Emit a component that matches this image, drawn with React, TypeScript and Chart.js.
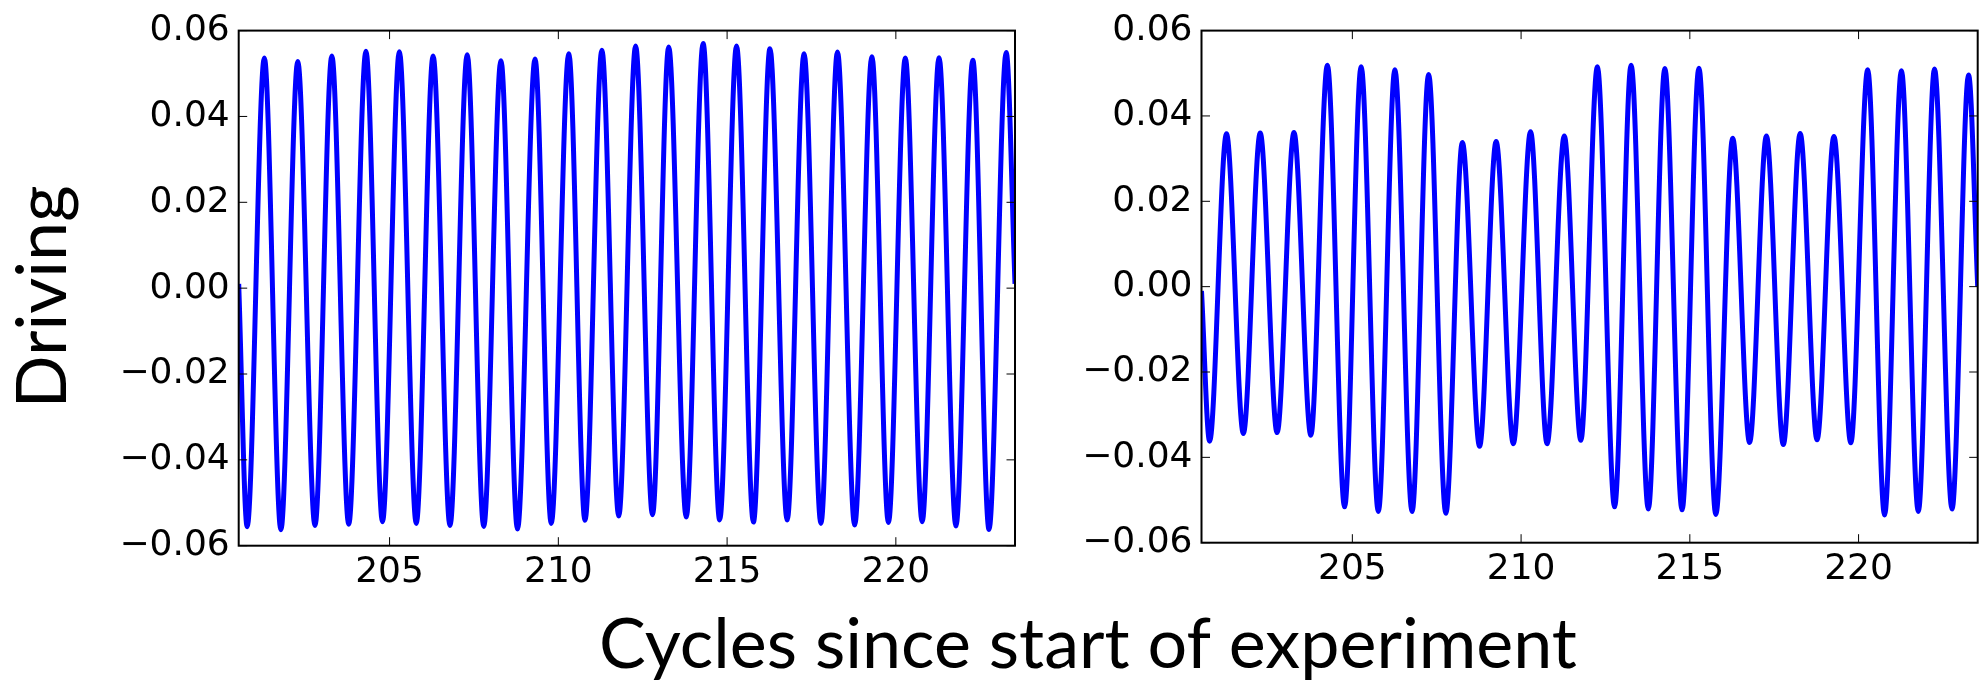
import React, { useEffect, useRef } from "react";
import { Chart, registerables } from "chart.js";

Chart.register(...registerables);

// ---- data ----
const xMin = 200.53;
const xMax = 223.53;
const xTicks = [205, 210, 215, 220];
const yTicks = [-0.06, -0.04, -0.02, 0, 0.02, 0.04, 0.06];

const xTitle = "Cycles since start of experiment";
const yTitle = "Driving";

// left panel
const leftStartValue = 0.001;
const leftEndValue = 0.001;
const leftTroughCycles = [200.78, 201.78, 202.79, 203.79, 204.79, 205.79, 206.79, 207.79, 208.79, 209.79, 210.79, 211.79, 212.79, 213.79, 214.78, 215.78, 216.78, 217.78, 218.78, 219.78, 220.78, 221.78, 222.76];
const leftTroughValues = [-0.0556, -0.0563, -0.0553, -0.055, -0.0544, -0.0548, -0.0553, -0.0555, -0.0561, -0.0548, -0.0541, -0.0531, -0.0528, -0.0533, -0.054, -0.0545, -0.054, -0.0548, -0.0552, -0.0546, -0.0544, -0.0554, -0.0562];
const leftPeakCycles = [201.29, 202.28, 203.29, 204.3, 205.29, 206.29, 207.3, 208.3, 209.31, 210.31, 211.29, 212.29, 213.27, 214.29, 215.28, 216.27, 217.28, 218.27, 219.29, 220.28, 221.28, 222.28, 223.27];
const leftPeakValues = [0.0536, 0.0528, 0.0541, 0.0552, 0.0551, 0.0541, 0.0544, 0.053, 0.0534, 0.0546, 0.0554, 0.0564, 0.0562, 0.057, 0.0564, 0.0558, 0.0546, 0.055, 0.0539, 0.0536, 0.0537, 0.0531, 0.0549];

// right panel
const rightStartValue = -0.001;
const rightEndValue = 0.0;
const rightTroughCycles = [200.77, 201.77, 202.77, 203.77, 204.77, 205.77, 206.77, 207.77, 208.77, 209.77, 210.77, 211.77, 212.77, 213.77, 214.77, 215.77, 216.77, 217.77, 218.77, 219.77, 220.77, 221.77, 222.77];
const rightTroughValues = [-0.0362, -0.0344, -0.0342, -0.0348, -0.0516, -0.0527, -0.0527, -0.0531, -0.0374, -0.0368, -0.0368, -0.036, -0.0516, -0.0521, -0.0523, -0.0534, -0.0365, -0.037, -0.0359, -0.0366, -0.0535, -0.0527, -0.0521];
const rightPeakCycles = [201.27, 202.27, 203.27, 204.26, 205.26, 206.26, 207.26, 208.26, 209.26, 210.28, 211.28, 212.26, 213.26, 214.26, 215.27, 216.27, 217.27, 218.27, 219.27, 220.27, 221.27, 222.25, 223.26];
const rightPeakValues = [0.0358, 0.036, 0.0361, 0.0519, 0.0515, 0.0508, 0.0497, 0.0338, 0.034, 0.0363, 0.0353, 0.0515, 0.0519, 0.0511, 0.0512, 0.0348, 0.0353, 0.0359, 0.0352, 0.0508, 0.0506, 0.051, 0.0496];

// ---- layout / style ----
const W = 1981;
const H = 683;
const TICK_FONT = { family: "DejaVu Sans", size: 36 };
const TITLE_FONT = "70px Lato";
const TICK_LEN = 8.5;

type Panel = {
  left: number; right: number; top: number; bottom: number; padLeft: number;
  start: number; end: number;
  tc: number[]; tv: number[]; pc: number[]; pv: number[];
  titles: boolean;
};

const panels: Panel[] = [
  { left: 238.7, right: 1015, top: 29.3, bottom: 545.7, padLeft: 0, start: leftStartValue, end: leftEndValue, tc: leftTroughCycles, tv: leftTroughValues, pc: leftPeakCycles, pv: leftPeakValues, titles: true },
  { left: 1201.5, right: 1977.7, top: 26, bottom: 542.7, padLeft: 1030, start: rightStartValue, end: rightEndValue, tc: rightTroughCycles, tv: rightTroughValues, pc: rightPeakCycles, pv: rightPeakValues, titles: false },
];

function buildSeries(p: Panel) {
  const pts: { x: number; y: number }[] = [{ x: xMin, y: p.start }];
  for (let i = 0; i < p.tc.length; i++) {
    pts.push({ x: p.tc[i], y: p.tv[i] });
    pts.push({ x: p.pc[i], y: p.pv[i] });
  }
  pts.push({ x: xMax, y: p.end });
  return pts;
}

function fmtY(v: number) {
  const r = Math.round(v * 100) / 100;
  if (r === 0) return "0.00";
  return (r < 0 ? "\u2212" : "") + Math.abs(r).toFixed(2);
}

const framePlugin = {
  id: "frameTicks",
  afterDatasetsDraw(chart: any) {
    const { ctx, chartArea: a, scales } = chart;
    const x = scales.x, y = scales.y;
    ctx.save();
    ctx.strokeStyle = "#000";
    ctx.lineWidth = 1;
    ctx.beginPath();
    for (const v of xTicks) {
      const px = x.getPixelForValue(v);
      ctx.moveTo(px, a.bottom); ctx.lineTo(px, a.bottom - TICK_LEN);
      ctx.moveTo(px, a.top); ctx.lineTo(px, a.top + TICK_LEN);
    }
    for (const v of yTicks) {
      const py = y.getPixelForValue(v);
      ctx.moveTo(a.left, py); ctx.lineTo(a.left + TICK_LEN, py);
      ctx.moveTo(a.right, py); ctx.lineTo(a.right - TICK_LEN, py);
    }
    ctx.stroke();
    ctx.lineWidth = 2;
    ctx.strokeRect(a.left, a.top, a.right - a.left, a.bottom - a.top);
    ctx.restore();
  },
};

const titlePlugin = {
  id: "bigTitles",
  afterDraw(chart: any) {
    const opts = chart.options.plugins.bigTitles;
    if (!opts || !opts.show) return;
    const { ctx } = chart;
    ctx.save();
    ctx.fillStyle = "#000";
    ctx.font = TITLE_FONT;
    ctx.textAlign = "center";
    ctx.textBaseline = "alphabetic";
    ctx.fillText(xTitle, 1088, 668);
    ctx.translate(66, 297);
    ctx.rotate(-Math.PI / 2);
    ctx.fillText(yTitle, 0, 0);
    ctx.restore();
  },
};

function PanelChart({ p }: { p: Panel }) {
  const ref = useRef<HTMLCanvasElement>(null);
  useEffect(() => {
    const canvas = ref.current!;
    const chart = new Chart(canvas, {
      type: "line",
      data: {
        datasets: [
          {
            data: buildSeries(p),
            borderColor: "#0000ff",
            borderWidth: 5,
            pointRadius: 0,
            cubicInterpolationMode: "monotone",
            fill: false,
          },
        ],
      },
      options: {
        animation: false,
        responsive: false,
        devicePixelRatio: 1,
        events: [],
        layout: { padding: { left: p.padLeft, right: W - p.right, top: p.top, bottom: 0 } },
        plugins: { legend: { display: false }, tooltip: { enabled: false }, title: { display: false }, bigTitles: { show: p.titles } } as any,
        scales: {
          x: {
            type: "linear",
            min: xMin,
            max: xMax,
            bounds: "data",
            grid: { display: false, drawTicks: false },
            border: { display: false },
            ticks: {
              font: TICK_FONT,
              color: "#000",
              padding: 5,
              maxRotation: 0,
              autoSkip: false,
              callback: (v: any) => String(Math.round(Number(v))),
            },
            afterBuildTicks: (s: any) => { s.ticks = xTicks.map((value) => ({ value })); },
            afterFit: (s: any) => { s.height = H - p.bottom; },
          },
          y: {
            type: "linear",
            min: -0.06,
            max: 0.06,
            bounds: "data",
            grid: { display: false, drawTicks: false },
            border: { display: false },
            ticks: {
              font: TICK_FONT,
              color: "#000",
              padding: 9,
              autoSkip: false,
              callback: (v: any) => fmtY(Number(v)),
            },
            afterBuildTicks: (s: any) => { s.ticks = yTicks.map((value) => ({ value })); },
            afterFit: (s: any) => { s.width = p.left - p.padLeft; },
          },
        },
      } as any,
      plugins: [framePlugin, titlePlugin],
    });
    return () => chart.destroy();
  }, [p]);
  return (
    <canvas
      ref={ref}
      width={W}
      height={H}
      style={{ position: "absolute", left: 0, top: 0, width: W, height: H }}
    />
  );
}

export default function App() {
  return (
    <div style={{ position: "absolute", left: 0, top: 0, width: W, height: H, background: "#fff", overflow: "hidden" }}>
      {panels.map((p, i) => (
        <PanelChart key={i} p={p} />
      ))}
    </div>
  );
}
